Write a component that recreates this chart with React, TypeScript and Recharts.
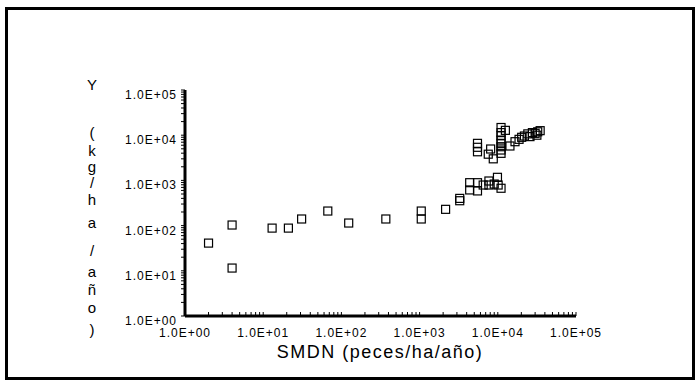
import { ScatterChart, Scatter, XAxis, YAxis } from 'recharts';

// SMDN (peces/ha/año) vs rendimiento Y (kg/ha/año)
const smdn = [
  2.0, 4.0, 4.0, 13, 21, 31, 67, 124, 370, 1050, 1050, 2150, 3260, 3260,
  4370, 4370, 5500, 5500, 6500, 7700, 7700, 9000, 9900, 10100, 11000,
  5500, 5500, 5500, 7550, 8100, 8750,
  11000, 11000, 11000, 11000, 11000, 11000, 11000, 11000,
  12500, 14300, 16600, 18700, 20200, 21900, 24200, 25800, 27700, 30000, 32400, 34800, 31600,
];
const yieldKg = [
  41, 103, 11.5, 88, 88, 140, 210, 114, 140, 210, 140, 229, 400, 355,
  890, 615, 890, 585, 790, 970, 790, 830, 1170, 790, 670,
  6600, 5400, 4300, 3800, 4950, 3000,
  14800, 11400, 9700, 7800, 6600, 5560, 4700, 3970,
  12800, 5770, 7180, 8100, 8980, 9600, 10700, 9300, 11400, 11000, 11900, 12600, 10000,
];

const decades = [1, 10, 100, 1000, 10000, 100000];
const yLetters = ['Y', '(', 'k', 'g', '/', 'h', 'a', '/', 'a', 'ñ', 'o', ')'];
const xTitle = 'SMDN (peces/ha/año)';

const data = smdn.map((x, i) => ({ x, y: yieldKg[i] }));

// minor ticks 1..9 in every decade, plus the last decade
const logTicks: number[] = [];
decades.slice(0, -1).forEach((d) => {
  for (let m = 1; m < 10; m++) logTicks.push(d * m);
});
logTicks.push(decades[decades.length - 1]);

const isDecade = (v: number) => decades.some((d) => Math.abs(d - v) < 1e-6 * d);
const fmt = (v: number) => '1.0E+' + String(Math.round(Math.log10(v))).padStart(2, '0');

const letterTop = [85, 133, 151, 167, 183, 200, 223, 251, 272, 290, 308, 330];
const FONT = '"Liberation Sans", Arial, sans-serif';

const XTick = (props: any) => {
  const { x, y, payload } = props;
  if (!isDecade(payload.value)) return <g />;
  return (
    <text x={x} y={y + 15} textAnchor="middle" fontSize={12} letterSpacing={1} fill="#000" fontFamily={FONT}>
      {fmt(payload.value)}
    </text>
  );
};

const YTick = (props: any) => {
  const { x, y, payload } = props;
  if (!isDecade(payload.value)) return <g />;
  return (
    <text x={x} y={y + 9} textAnchor="end" fontSize={12} letterSpacing={1} fill="#000" fontFamily={FONT}>
      {fmt(payload.value)}
    </text>
  );
};

const Square = (props: any) => {
  const { cx, cy } = props;
  if (cx == null || cy == null) return <g />;
  return <rect x={cx - 4} y={cy - 4} width={8} height={8} fill="none" stroke="#000" strokeWidth={1.2} />;
};

export default function App() {
  return (
    <div style={{ position: 'absolute', left: 0, top: 0, width: 700, height: 388, background: '#fff', fontFamily: FONT }}>
      <div
        style={{
          position: 'absolute', left: 5, top: 7, width: 690, height: 373,
          boxSizing: 'border-box', border: '3px solid #000',
        }}
      />
      <ScatterChart width={700} height={388} margin={{ top: 90, right: 124, bottom: 42, left: 125 }}>
        <XAxis
          dataKey="x"
          type="number"
          scale="log"
          domain={[1, 100000]}
          ticks={logTicks}
          interval={0}
          allowDataOverflow
          height={30}
          axisLine={{ stroke: '#000', strokeWidth: 3 }}
          tickLine={{ stroke: '#000', strokeWidth: 1 }}
          tickSize={-4}
          tickMargin={10}
          tick={<XTick />}
        />
        <YAxis
          dataKey="y"
          type="number"
          scale="log"
          domain={[1, 100000]}
          ticks={logTicks}
          interval={0}
          allowDataOverflow
          width={60}
          axisLine={{ stroke: '#000', strokeWidth: 3 }}
          tickLine={{ stroke: '#000', strokeWidth: 1 }}
          tickSize={4}
          tickMargin={4}
          tick={<YTick />}
        />
        <Scatter data={data} shape={<Square />} isAnimationActive={false} />
      </ScatterChart>
      {yLetters.map((c, i) => (
        <div
          key={i}
          style={{
            position: 'absolute', left: 82, width: 20, top: letterTop[i] - 7,
            textAlign: 'center', fontSize: 15, lineHeight: '14px', color: '#000',
          }}
        >
          {c}
        </div>
      ))}
      <div
        style={{
          position: 'absolute', left: 180, width: 400, top: 341, textAlign: 'center',
          fontSize: 18, letterSpacing: 1.5, lineHeight: '22px', color: '#000',
        }}
      >
        {xTitle}
      </div>
    </div>
  );
}
